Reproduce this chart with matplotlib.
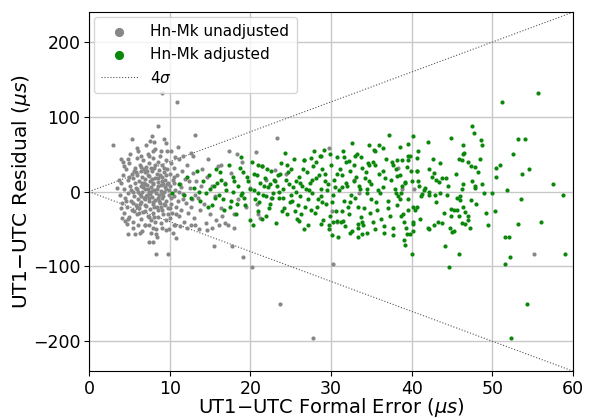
import matplotlib
matplotlib.use("Agg")
import matplotlib.pyplot as plt
import numpy as np

# Hn-Mk sin ajustar (gris)
unadj = [
    (3.5, 5), (3.8, -4), (4.0, 12), (4.1, -15), (4.2, 22), (4.3, -28), (4.4, 3), (4.5, -8),
    (4.6, 30), (4.7, -20), (4.8, 15), (4.9, -2), (5.0, 38), (5.0, -34), (5.1, 8), (5.2, -12),
    (5.3, 24), (5.3, -25), (5.4, 0), (5.5, 18), (5.5, -40), (5.6, -6), (5.7, 32), (5.7, 11),
    (5.8, -18), (5.9, 45), (5.9, -30), (6.0, 4), (6.0, 22), (6.1, -10), (6.2, 14), (6.2, -22),
    (6.3, 36), (6.3, -3), (6.4, 28), (6.4, -36), (6.5, 8), (6.5, -14), (6.6, 19), (6.6, -1),
    (6.7, 42), (6.7, -27), (6.8, 12), (6.8, -8), (6.9, 26), (6.9, -45), (7.0, 3), (7.0, 17),
    (7.1, -19), (7.1, 33), (7.2, -4), (7.2, 9), (7.3, -32), (7.3, 50), (7.4, 21), (7.4, -12),
    (7.5, 0), (7.5, 38), (7.6, -23), (7.6, 14), (7.7, 6), (7.7, -38), (7.8, 27), (7.8, -7),
    (7.9, -16), (7.9, 45), (8.0, 10), (8.0, -28), (8.1, 31), (8.1, 2), (8.2, -11), (8.2, 18),
    (8.3, -50), (8.3, -2), (8.4, 24), (8.4, -20), (8.5, 40), (8.5, 7), (8.6, -34), (8.6, 13),
    (8.7, -5), (8.7, 29), (8.8, -15), (8.8, 48), (8.9, 1), (8.9, -42), (9.0, 20), (9.0, -25),
    (9.1, 35), (9.1, -9), (9.2, 10), (9.2, -30), (9.3, 26), (9.3, -1), (9.4, -18), (9.4, 16),
    (9.5, 42), (9.5, -38), (9.6, 4), (9.6, -12), (9.7, 30), (9.8, -22), (9.8, 12), (9.9, -4),
    (10.0, 24), (10.0, -35), (10.1, 8), (10.2, -16), (10.2, 38), (10.3, -28), (10.4, 15),
    (10.5, -6), (10.5, 32), (10.6, -45), (10.7, 2), (10.8, -20), (10.9, 22), (11.0, -12),
    (11.1, 44), (11.2, -32), (11.3, 10), (11.4, -24), (11.5, 28), (11.6, -3), (11.8, -40),
    (11.9, 17), (12.0, -15), (12.2, 36), (12.3, -28), (12.5, 5), (12.7, -20), (12.9, 25),
    (13.0, -35), (13.3, 14), (13.5, -8), (13.8, -25), (14.0, 30), (14.3, -16), (14.6, 20),
    (15.0, -30), (15.3, 8), (15.7, -38), (16.0, 34), (16.4, -22), (16.8, 12), (17.2, -45),
    (17.6, 25), (18.0, -30), (18.5, -10), (19.0, 40), (19.5, -20), (20.0, 5), (21.0, -30),
    (22.0, 15),
    (5.8, 5), (6.3, -16), (6.8, 30), (7.0, -10), (7.3, 22), (7.6, -3), (7.9, 12), (8.2, -40),
    (8.6, -24), (8.9, 9), (9.2, -6), (6.1, -44), (5.4, -48), (4.8, -36), (4.0, -22), (3.7, 16),
    (4.3, 34), (5.1, 50), (6.0, 58), (6.6, -52), (7.1, 62), (7.7, -55), (8.4, -60), (9.0, -48),
    (9.7, 55), (10.4, -55), (11.0, 60), (7.4, 48), (8.0, 55), (6.4, 47), (5.6, -26), (9.9, -50),
    (10.8, -62), (12.1, -48), (13.6, -50), (14.8, 44), (16.5, -32), (11.6, 48), (12.6, 52),
    (5.2, 2), (5.5, -15), (5.8, 26), (6.1, 0), (6.4, -6), (6.7, 6), (7.0, -26), (7.2, 27),
    (7.5, -9), (7.8, 17), (8.1, -21), (8.4, 4), (8.7, -12), (9.0, 14), (9.3, -17), (9.6, 22),
    (9.9, 2), (10.2, -8), (10.5, 12), (10.8, -30), (6.0, -20), (6.5, 33), (7.0, 10), (7.4, -34),
    (7.8, 1), (8.2, 35), (8.6, -8), (9.0, -2), (9.4, 6), (9.8, -30), (5.6, 28), (6.2, -28),
    (6.9, -18), (7.3, 4), (7.7, 31), (8.1, -34), (8.5, 18), (8.9, -20), (9.3, 32), (10.1, -22),
    (10.6, 20), (11.2, 0), (11.7, -10), (12.4, 14), (13.1, -4), (4.6, -12), (5.0, 20), (6.6, 12),
    (7.1, -6), (8.0, -14), (8.8, 22), (9.7, 10), (11.4, 6), (12.8, -10), (13.9, 8), (15.6, -6),
    (9.1, 132), (10.9, 120), (8.5, 88), (13.1, 76), (3.0, 62), (5.3, 71), (7.6, 68), (8.1, 67),
    (9.3, 70), (9.5, 65), (7.8, 75), (4.0, 44), (4.2, 40), (4.9, 43), (6.1, 54), (8.2, 57),
    (8.9, 54), (10.2, 55), (10.7, 46), (12.9, 47), (17.4, 55), (18.4, 51), (16.4, 36),
    (4.5, -39), (4.7, -43), (4.9, -57), (5.7, -57), (6.3, -55), (7.0, -45), (7.4, -44),
    (8.0, -49), (8.3, -57), (7.5, -67), (7.9, -67), (4.1, -35), (9.6, -51), (10.7, -44),
    (11.3, -46), (12.7, -45), (13.2, -45), (14.5, -42), (15.3, -48), (16.1, -45), (16.8, -42),
    (14.6, -51), (18.0, -48), (21.2, -35),
    (8.3, -83), (9.8, -83), (15.5, -72), (17.7, -72), (19.1, -87), (20.2, -101), (23.7, -150),
    (27.8, -195), (30.3, -97), (55.2, -84), (23.3, 72), (20.7, 53), (29.8, 59), (23.0, 29),
    (24.4, 24), (22.6, -8), (20.8, -16), (30.1, -26), (30.8, -40), (33.5, -2), (32.8, 15),
    (38.3, 32), (38.8, 3), (40.3, 4),
]

# Hn-Mk ajustado (verde)
adj = [
    (10.3, -2), (11.2, 10), (11.8, -5), (12.2, 20), (12.6, -8), (13.0, 5), (13.4, 28), (13.8, -12),
    (14.1, 14), (14.5, -2), (14.9, 22), (15.2, -18), (15.5, 8), (15.8, 30), (16.1, -5), (16.4, 16),
    (16.7, -25), (17.0, 2), (17.3, 36), (17.6, -12), (17.9, 20), (18.2, -30), (18.5, 8), (18.8, -4),
    (19.1, 26), (19.4, -18), (19.7, 14), (20.0, -38), (20.2, 40), (20.4, 2), (20.6, -10), (20.8, 22),
    (21.0, -26), (21.2, 12), (21.4, 34), (21.6, -4), (21.8, 18), (22.0, -32), (22.2, 6), (22.4, -16),
    (22.6, 28), (22.8, -2), (23.0, 14), (23.2, -42), (23.4, 22), (23.6, -8), (23.8, 38), (24.0, 4),
    (24.2, -22), (24.4, 16), (24.6, -30), (24.8, 10), (25.0, 30), (25.2, -12), (25.4, 44), (25.6, 0),
    (25.8, -36), (26.0, 20), (26.2, -6), (26.4, 8), (26.6, 42), (26.8, -20), (27.0, 26), (27.2, -44),
    (27.4, 12), (27.6, -2), (27.8, 34), (28.0, -28), (28.2, 18), (28.4, -10), (28.6, 48), (28.8, 4),
    (29.0, -38), (29.2, 24), (29.4, -16), (29.6, 10), (29.8, -50), (30.0, 36), (30.2, -4), (30.4, 16),
    (30.6, -26), (30.8, 46), (31.0, 2), (31.2, -40), (31.4, 22), (31.6, -12), (31.8, 40), (32.0, 8),
    (32.2, -30), (32.4, 28), (32.6, -52), (32.8, 14), (33.0, -8), (33.2, 50), (33.4, -20), (33.6, 4),
    (33.8, 32), (34.0, -44), (34.2, 18), (34.4, -2), (34.6, 38), (34.8, -28), (35.0, 10), (35.3, 56),
    (35.6, -14), (35.9, 24), (36.2, -36), (36.5, 6), (36.8, 44), (37.1, -22), (37.4, 16), (37.7, -48),
    (38.0, 30), (38.3, -6), (38.6, 60), (38.9, -30), (39.2, 12), (39.5, -10), (39.8, 48), (40.2, -20),
    (40.6, 28), (41.0, -36), (41.5, 2), (42.0, -48), (42.5, 20), (43.0, -14), (43.5, 38), (44.0, -28),
    (44.5, 8), (45.0, -54), (45.5, 24), (46.0, -6), (46.5, 52), (47.0, -38), (47.5, 14), (48.0, -16),
    (48.5, 44), (49.0, -2), (49.5, -44), (50.5, 20), (51.5, -60), (52.5, 50), (53.5, -10), (54.5, 30),
    (56.0, -40), (57.5, 10),
    (15.0, 4), (15.6, -8), (16.2, 26), (16.9, 10), (17.5, -20), (18.0, 14), (18.7, 32), (19.2, -8),
    (19.9, 4), (20.5, 24), (21.1, -14), (21.7, 8), (22.3, -22), (22.9, 16), (23.5, 0), (24.1, -8),
    (24.7, 26), (25.3, 6), (25.9, -18), (26.5, 30), (27.1, -10), (27.7, 16), (28.3, -20), (28.9, 30),
    (29.5, 2), (30.1, -14), (30.7, 24), (31.3, -26), (31.9, 12), (32.5, -4), (33.1, 20), (33.7, -34),
    (34.3, 26), (34.9, -10), (35.5, 36), (36.1, -2), (36.7, 18), (37.3, -32), (37.9, 4), (38.5, 22),
    (39.1, -40), (16.6, -10), (17.8, 0), (18.4, -16), (19.6, 20), (20.9, -2), (21.5, -36), (22.1, 30),
    (22.7, -8), (23.3, 8), (23.9, -26), (24.5, 36), (25.1, -4), (25.7, 14), (26.3, -30), (26.9, 4),
    (27.5, -24), (28.1, 40), (28.7, -6), (29.3, 14), (29.9, -32), (30.5, 6), (31.1, 30), (31.7, -46),
    (32.3, -14), (32.9, 36), (33.5, 8), (34.1, -22), (34.7, 14), (35.2, -40), (35.8, 2), (36.4, 28),
    (37.0, -12), (37.6, 40), (38.2, -18), (38.8, 8), (39.4, -56), (40.0, 14), (41.2, -6), (42.2, 30),
    (43.2, -40), (44.2, 18), (45.2, -24), (46.2, 4), (47.2, -48), (48.2, 26), (49.2, -28), (13.6, 0),
    (14.7, -20), (18.9, 46), (20.3, -44), (24.3, 52), (26.7, -50), (29.1, 56), (31.5, 54), (33.9, -56),
    (36.0, 62), (15.9, 12), (19.0, -2), (21.9, -6), (23.7, 24), (25.5, -26), (27.3, 2), (28.5, 22),
    (30.3, -40), (32.1, -20), (34.5, 4), (36.6, -46), (38.7, -2), (22.5, 10), (24.9, -14), (26.1, 12),
    (28.9, -14), (31.3, 6), (33.3, -48), (35.7, -24),
    (55.7, 132), (51.2, 120), (47.5, 88), (47.7, 78), (53.2, 71), (54.0, 71), (48.6, 69), (48.7, 62),
    (44.9, 72), (42.0, 67), (40.1, 75), (46.4, 63), (46.4, 51), (50.9, 36), (50.4, 31), (53.7, 23),
    (51.8, 2), (50.0, -2), (58.8, -5), (50.3, -26), (53.2, -43), (52.1, -60), (42.7, 43), (45.8, 43),
    (46.2, 42), (47.0, 39), (47.4, 34), (47.9, 33), (42.8, 25), (43.8, 18), (43.0, 16), (43.4, 13),
    (46.4, 10), (47.9, 8), (47.9, 5), (48.7, 10), (40.9, 8), (41.6, 5), (41.3, -3), (42.2, -1),
    (42.2, -4), (42.9, -5), (43.5, -2), (44.4, -4), (45.6, -9), (46.0, -11), (47.4, -11),
    (44.9, -23), (45.6, -24), (46.3, -21), (46.6, -27), (44.9, -33), (45.9, -32), (47.0, -32),
    (43.8, -42), (46.2, -42), (46.6, -43), (42.8, -44), (42.2, -50), (44.7, -49), (45.2, -52),
    (44.1, -73), (45.8, -83), (40.0, -83), (40.1, -52), (39.8, -56), (39.0, -65), (39.2, -71),
    (38.7, -33), (39.3, -48), (40.2, -40), (40.1, -43), (40.4, -24), (40.6, -21), (39.6, -24),
    (38.5, -10), (38.1, -2), (40.8, 14), (39.2, 13), (39.9, 28), (40.6, 27), (38.2, 21),
    (39.4, 33), (39.6, 42), (39.5, 47), (44.6, -101), (51.6, -97), (52.2, -87), (59.0, -84),
    (54.3, -150), (52.3, -195),
    (37.2, 76), (39.5, 64), (32.6, 65), (34.7, 62), (35.5, 55), (36.5, 59), (27.9, 55), (29.9, 51),
    (28.8, 48), (26.6, 42), (27.5, 45), (31.6, 46), (32.2, 41), (33.0, 47), (33.7, 46), (35.2, 39),
    (34.7, 35), (38.2, 42), (38.8, 42), (40.8, 54), (40.7, 45), (37.7, 36), (20.9, 36), (21.4, 34),
    (30.1, -58), (32.3, -55), (33.4, -60), (30.9, -60), (34.5, -55), (35.5, -50), (36.6, -55),
    (37.7, -58), (26.0, -39), (28.7, -43), (29.7, -45), (30.7, -39), (31.5, -39), (33.3, -43),
    (33.9, -41),
]

ux = [p[0] for p in unadj]
uy = [p[1] for p in unadj]
gx = [p[0] for p in adj]
gy = [p[1] for p in adj]

plt.rcParams["font.family"] = "DejaVu Sans"
fig = plt.figure(figsize=(5.89, 4.18), dpi=100)
ax = fig.add_axes([0.151, 0.112, 0.822, 0.859])

ax.scatter(ux, uy, s=9, color="#878787", label="Hn-Mk unadjusted", zorder=3, linewidths=0)
ax.scatter(gx, gy, s=9, color="#0b880b", label="Hn-Mk adjusted", zorder=3, linewidths=0)

sig = np.array([0, 60])
ax.plot(sig, 4 * sig, ":", color="#555555", lw=0.8, label=r"4$\sigma$")
ax.plot(sig, -4 * sig, ":", color="#555555", lw=0.8)

ax.set_xlim(0, 60)
ax.set_ylim(-240, 240)
ax.set_xticks(range(0, 61, 10))
ax.set_yticks([-200, -100, 0, 100, 200])
ax.grid(True, color="#c8c8c8", lw=1)
ax.set_axisbelow(True)
ax.tick_params(labelsize=12.5, pad=2.5)
ax.set_xlabel(r"UT1$-$UTC Formal Error ($\mu s$)", fontsize=14, labelpad=-1)
ax.set_ylabel(r"UT1$-$UTC Residual ($\mu s$)", fontsize=14.5, labelpad=0)
ax.legend(loc="upper left", fontsize=11, markerscale=2.2, handletextpad=0.8,
          borderaxespad=0.3, handlelength=2.4, borderpad=0.5)

fig.savefig("out.png", dpi=100)
